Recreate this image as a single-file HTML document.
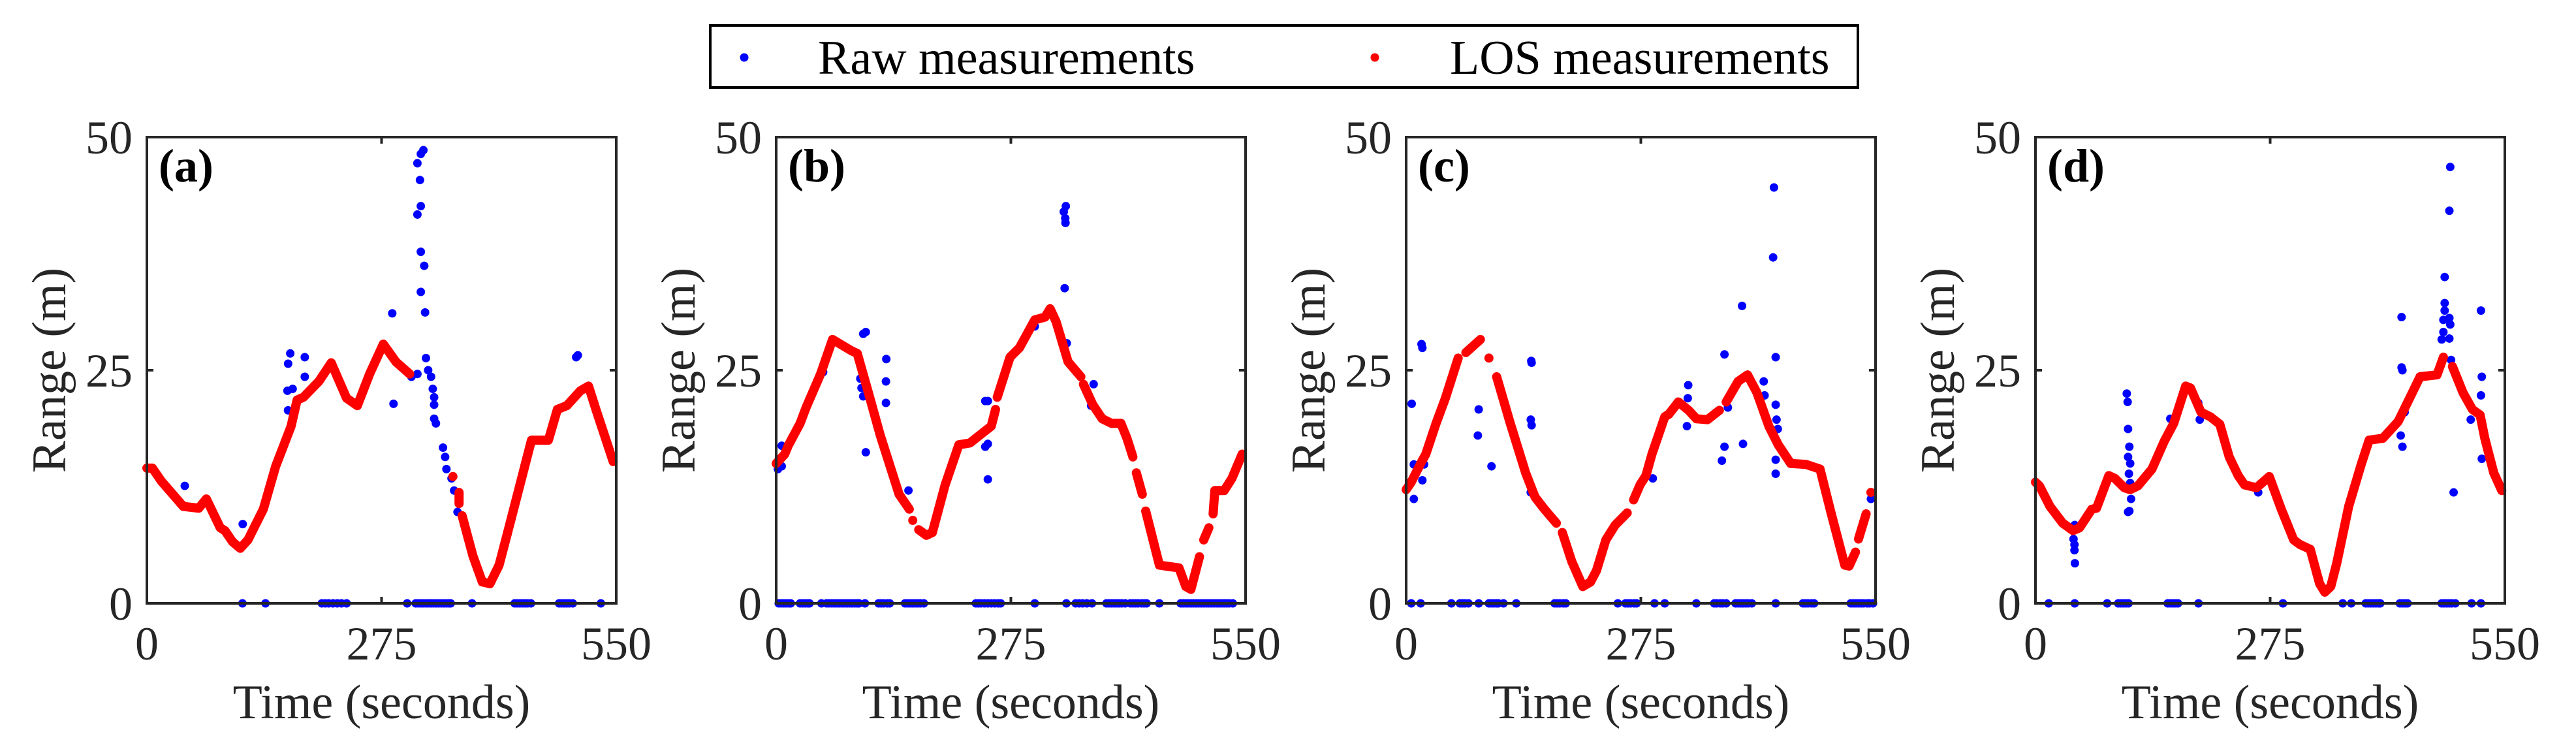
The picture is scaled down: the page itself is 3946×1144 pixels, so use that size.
<!DOCTYPE html>
<html><head><meta charset="utf-8"><style>
html,body{margin:0;padding:0;background:#fff;}
svg{display:block;font-family:"Liberation Serif",serif;}
</style></head><body>
<svg id="fig" width="3946" height="1144" viewBox="0 0 3946 1144" xmlns="http://www.w3.org/2000/svg">
<rect x="0" y="0" width="3946" height="1144" fill="#fff"/>
<g>
<rect x="1088" y="39" width="1758" height="95" fill="#fff" stroke="#000" stroke-width="4"/>
<circle cx="1140" cy="88" r="6.5" fill="#0000ff"/>
<text x="1253" y="113" font-size="74" fill="#000">Raw measurements</text>
<circle cx="2106" cy="88" r="6.5" fill="#ff0000"/>
<text x="2221" y="113" font-size="74" fill="#000">LOS measurements</text>
</g>
</svg>
<script>
// ---- Panel (a) ----
const aLosT=[0,6.5,17,42.6,60.7,69.7,86,91.4,100.4,109.4,118.4,136.5,150.9,169,176,183.4,201.5,216,234,246.6,261,277,291.8,308,null,358.6,null,365.8,365.8,null,369.4,382,393,402,412.7,425,450.6,470.5,481,492,508,517.5,526.5,546.4];
const aLosR=[14.5,14.5,13.1,10.4,10.2,11.2,8.1,7.8,6.6,5.9,6.8,10.1,14.7,19,21.8,22.1,23.8,25.8,22,21.2,24.6,27.8,25.9,24.6,null,13.6,null,11.9,10.7,null,9.4,5.1,2.3,2.1,4.1,8.4,17.5,17.5,20.8,21.2,22.8,23.3,20.7,15.2];
const aRawT=[44.4,112.3,168,165.5,185,185,164.7,170.8,165.4,287.5,289,310,317,324,321,317,320,321,317,321,325,321,326,327,329.6,333,335,336.6,336.6,336.6,338.7,347,349.5,351,357,360,366,364,505,503,524.7];
const aRawR=[12.6,8.5,26.8,25.7,26.4,24.3,22.8,23,20.7,31.1,21.4,24.3,24.6,48.6,48.2,47.2,45.4,42.6,41.7,37.7,36.2,33.4,31.2,26.3,25,24.3,23,22.1,21.3,19.8,19.3,16.7,15.7,14.4,13.4,12.1,11.7,9.8,26.6,26.4,21.3];
const aZeroT=[112,139,205,209,213,218,223,228,234,305,315,318,321,324,327,330,333,336,339,342,345,348,351,354,356,381,431,434,437,440,443,446,450,483,486,489,492,495,499,532];
// ---- Panel (b) ----
const bLosT=[0,10,14,28,35,52,66,88,95,108,122,144,156,null,160,null,167,176,183,198,214,227,245,252,257,null,259,274,285,303,315,321,328,342,357,null,360,371,382,393,404,411,418,null,422,429,null,433,449,472,480,486,496,null,501,507,null,512,514,525,534,546];
const bLosR=[15,16,16.9,19.3,21,24.6,28.3,27.1,26.8,22.6,18,11.7,10.1,null,8.9,null,7.9,7.3,7.6,12.7,17,17.2,18.5,19,20.8,null,22.1,26.4,27.4,30.4,30.7,31.6,30.2,25.9,24.3,null,23.5,21.3,19.8,19.3,19.3,17.7,15.7,null,14,11.7,null,9.9,4.1,3.8,1.8,1.5,5,null,6.8,8.1,null,9.6,12.1,12.1,13.4,16];
const bRawT=[2,6.5,6.5,55,102,105,98.6,100,102,105,129,128.6,128.6,155,245,248,248,245,248,259,288,303,338,339.4,337,338.7,339,340.5,372,369];
const bRawR=[14.4,14.7,16.9,24.8,28.9,29.1,24.1,23.1,22.2,16.2,26.2,23.8,21.5,12.1,21.7,21.7,17.1,16.8,13.3,22.1,27.9,29.7,33.8,42.6,42,41.3,40.8,27.9,23.5,21.2];
const bZeroT=[3,6,9,12,15,17,28,31,34,37,39,53,59,62,65,68,71,74,77,80,83,86,89,92,95,97,104,120,123,126,130,133,151,154,157,160,163,166,169,173,234,237,240,244,248,252,256,260,263,303,340,351,355,359,364,370,387,390,393,396,399,402,405,409,415,418,421,424,428,431,434,449,474,477,480,483,486,489,492,495,498,501,504,507,510,513,516,519,522,525,528,531,535];
// ---- Panel (c) ----
const cLosT=[0,6,17,23,35,46,61,null,70,87,null,97,null,106,122,140,151,162,176,null,183,194,207,216,223,234,245,259,null,266.5,274,281,288,303,308,319,331,340,353,367,null,375,389,400,411,425,436,450.6,468.6,485,497.6,514,519,526.5,null,530,539,null,544.6];
const cLosR=[12.2,13,15,16,19.3,22,26.3,null,26.9,28.3,null,26.3,null,24.3,19.3,14,11.4,10.1,8.6,null,7.6,4.5,1.8,2.3,3.5,6.8,8.4,9.7,null,11.1,12.7,13.7,16,20,20.3,21.6,20.7,19.8,19.7,20.7,null,21.6,23.8,24.5,22.6,19,17,15,14.9,14.4,9.8,4.1,4,5.5,null,6.9,9.6,null,11.9];
const cRawT=[6.5,18,19,9,9,21,19,85,84,100,146.6,147,146,147,146,373,393.6,431,430,433,330.5,330,329,373,370,394.7,419,420,433,434,435.5,433,433,289,544.6,377];
const cRawR=[21.4,27.8,27.4,14.9,11.2,14.9,13.2,20.8,18,14.7,26,25.8,19.7,19.1,11.9,26.7,31.9,44.6,37.1,26.4,23.4,22,19,16.8,15.3,17.1,23.8,22.3,21.3,19.7,18.7,15.4,13.9,13.4,11.2,21];
const cZeroT=[6,17,53,63,66,69,73,85,97,100,103,106,108,114,129,174,177,180,184,187,248,257,260,263,267,270,291,303,340,361,364,368,371,375,386,389,392,395,398,401,405,433,465,468,471,475,478,521,524,527,530,533,536,540,543,547];
// ---- Panel (d) ----
const dLosT=[0,4.7,17,32,44,51.6,66,71.5,86,93,104,111,120,136.5,151,162,176,181.6,194,205,216,227,237.6,245,259,274,288,302.6,310,322,333,339,346,353,367,382,391,407,425,440,450.6,470.5,478,null,488.6,501,512,521,526.5,537,546.4];
const dLosR=[13,12.6,10.4,8.6,7.8,8.1,10.1,10.2,13.7,13.4,12.4,12.2,12.6,14.4,17.4,19.3,23.3,23.1,20.5,20,19.2,15.7,13.7,12.7,12.4,13.6,10.1,6.8,6.3,5.8,2.1,1.2,1.8,4.3,10.4,15,17.5,17.7,19.5,22.3,24.3,24.5,26.4,null,25.4,22.6,20.8,20.2,17.7,14,12.1];
const dRawT=[46,44.6,45.7,45.7,46.2,107,108,108.5,110,108.5,111,109.5,111,112,110,108.5,158,190.7,192.5,261,429,429,430,428,430,479.5,486,485,479.5,478,479.5,485,486,478,476,485,487,490,522,523,522,510,523,432.6];
const dRawR=[8.4,6.9,6.3,5.7,4.3,22.5,21.6,18.7,16.8,15.7,15,13.9,12.9,11.2,9.9,9.8,19.8,21.5,19.7,11.9,30.7,25.3,25,18,16.8,35,46.8,42.1,32.2,30.4,31.4,30.6,29.9,29.1,28.3,28.4,26.1,11.9,31.4,24.3,22.3,19.7,15.5,20.5];
const dZeroT=[15.5,46,84,97,100,103,106,109,155,158,161,164,167,191,290,360,370,387,390,393,396,399,402,404,427,430,433,436,476,479,482,485,488,492,511,522];
// ---- Axes ----
const xTicks=[0,275,550];
const yTicks=[0,25,50];
const panelLabels=['a','b','c','d'];

const NS='http://www.w3.org/2000/svg';
const svg=document.getElementById('fig');
const lefts=[225,1189,2154,3118];
const PW=719, PT=210, PH=714;
function mk(tag,attrs,parent){const e=document.createElementNS(NS,tag);for(const k in attrs)e.setAttribute(k,attrs[k]);parent.appendChild(e);return e;}

const panels=[
 [aLosT,aLosR,aRawT,aRawR,aZeroT],
 [bLosT,bLosR,bRawT,bRawR,bZeroT],
 [cLosT,cLosR,cRawT,cRawR,cZeroT],
 [dLosT,dLosR,dRawT,dRawR,dZeroT]];

panels.forEach((p,i)=>{
  const L=lefts[i];
  const xs=t=>L+t/550*PW;
  const ys=r=>PT+PH-r/50*PH;
  const g=mk('g',{},svg);
  
  
  // raw zeros
  p[4].forEach(t=>{const c=mk('circle',{cx:xs(t),cy:ys(0),r:6.5,fill:'#0000ff'},g);
    
    });
  // raw nonzero
  p[2].forEach((t,k)=>{const c=mk('circle',{cx:xs(t),cy:ys(p[3][k]),r:6.5,fill:'#0000ff'},g);
    
    });
  // LOS line
  let d='',start=true;
  p[0].forEach((t,k)=>{const r=p[1][k];
    if(t===null||r===null){start=true;return;}
    const nt=p[0][k+1];
    if(start){d+='M'+xs(t).toFixed(1)+' '+ys(r).toFixed(1)+' ';
      if(nt===null||nt===undefined) d+='L'+xs(t).toFixed(1)+' '+ys(r).toFixed(1)+' ';
      start=false;}
    else d+='L'+xs(t).toFixed(1)+' '+ys(r).toFixed(1)+' ';});
  const path=mk('path',{d:d,fill:'none',stroke:'#ff0000','stroke-width':14,'stroke-linecap':'round','stroke-linejoin':'round'},g);
  
  
  // frame
  const fr=mk('rect',{x:L,y:PT,width:PW,height:PH,fill:'none',stroke:'#262626','stroke-width':4},g);
  
  
  // ticks
  xTicks.forEach(v=>{const x=xs(v);
    mk('line',{x1:x,y1:PT+PH,x2:x,y2:PT+PH-10,stroke:'#262626','stroke-width':4},g);
    mk('line',{x1:x,y1:PT,x2:x,y2:PT+10,stroke:'#262626','stroke-width':4},g);
    const tx=mk('text',{x:x,y:1010,'font-size':72,'text-anchor':'middle',fill:'#262626'},g);
    tx.textContent=v;
    
    });
  yTicks.forEach(v=>{const y=ys(v);
    mk('line',{x1:L,y1:y,x2:L+10,y2:y,stroke:'#262626','stroke-width':4},g);
    mk('line',{x1:L+PW,y1:y,x2:L+PW-10,y2:y,stroke:'#262626','stroke-width':4},g);
    const tx=mk('text',{x:L-22,y:y+25,'font-size':72,'text-anchor':'end',fill:'#262626'},g);
    tx.textContent=v;
    
    });
  const xl=mk('text',{x:L+PW/2,y:1100,'font-size':74,'text-anchor':'middle',fill:'#262626'},g);
  xl.textContent='Time (seconds)';
  
  
  const yl=mk('text',{x:0,y:0,'font-size':74,'text-anchor':'middle',fill:'#262626',transform:'translate('+(L-125)+','+(PT+PH/2)+') rotate(-90)'},g);
  yl.textContent='Range (m)';
  
  
  const pl=mk('text',{x:L+18,y:278,'font-size':72,'font-weight':'bold',fill:'#000'},g);
  pl.textContent='('+panelLabels[i]+')';
  
  
});
</script>
</body></html>
